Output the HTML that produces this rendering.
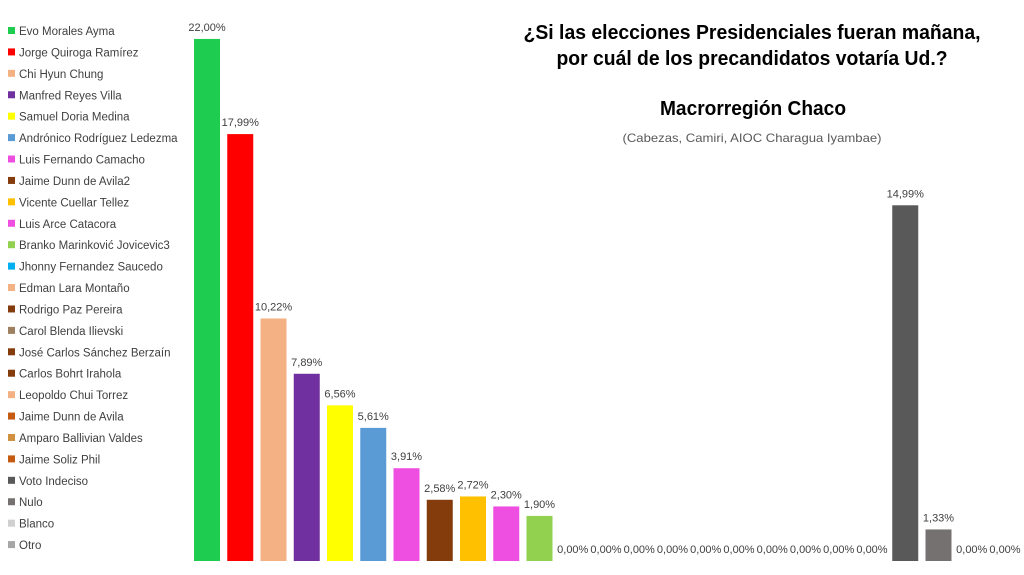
<!DOCTYPE html>
<html><head><meta charset="utf-8"><style>
html,body{margin:0;padding:0;background:#fff;}
svg{display:block;font-family:"Liberation Sans",Arial,sans-serif;}
</style></head><body>
<svg width="1024" height="575" viewBox="0 0 1024 575" xmlns="http://www.w3.org/2000/svg">
<g font-size="11.5" fill="#404040" id="legend"></g>
<g id="bars"></g>
<text x="752" y="39" text-anchor="middle" font-size="20" font-weight="bold" textLength="457" lengthAdjust="spacingAndGlyphs">¿Si las elecciones Presidenciales fueran mañana,</text>
<text x="752" y="65" text-anchor="middle" font-size="20" font-weight="bold" textLength="391" lengthAdjust="spacingAndGlyphs">por cuál de los precandidatos votaría Ud.?</text>
<text x="753" y="115" text-anchor="middle" font-size="20" font-weight="bold" textLength="186" lengthAdjust="spacingAndGlyphs">Macrorregión Chaco</text>
<text x="752" y="142" text-anchor="middle" font-size="12" fill="#595959" textLength="259" lengthAdjust="spacingAndGlyphs">(Cabezas, Camiri, AIOC Charagua Iyambae)</text>
</svg>
<script>
(function(){
var names=["Evo Morales Ayma","Jorge  Quiroga Ramírez","Chi Hyun Chung","Manfred Reyes Villa","Samuel Doria Medina","Andrónico Rodríguez Ledezma","Luis Fernando Camacho","Jaime Dunn de Avila2","Vicente Cuellar Tellez","Luis Arce Catacora","Branko Marinković Jovicevic3","Jhonny Fernandez Saucedo","Edman Lara Montaño","Rodrigo Paz Pereira","Carol Blenda Ilievski","José Carlos Sánchez Berzaín","Carlos Bohrt Irahola","Leopoldo Chui Torrez","Jaime Dunn de Avila","Amparo Ballivian Valdes","Jaime Soliz Phil","Voto Indeciso","Nulo","Blanco","Otro"];
var cols=["#1ecc50","#ff0000","#f4b183","#7030a0","#ffff00","#5b9bd5","#ee4fe0","#843c0c","#ffc000","#ee4fe0","#92d050","#00b0f0","#f4b183","#843c0c","#9e8060","#843c0c","#843c0c","#f4b183","#c55a11","#d09040","#c55a11","#595959","#767171","#d0d0d0","#a6a6a6"];
var vals=[22,17.99,10.22,7.89,6.56,5.61,3.91,2.58,2.72,2.30,1.90,0,0,0,0,0,0,0,0,0,0,14.99,1.33,0,0];
var ns="http://www.w3.org/2000/svg",L=document.getElementById("legend"),B=document.getElementById("bars");
function el(t,a,p,txt){var e=document.createElementNS(ns,t);for(var k in a)e.setAttribute(k,a[k]);if(txt!==undefined)e.textContent=txt;p.appendChild(e);return e;}
for(var i=0;i<25;i++){
 var y=31+i*21.42;
 el("rect",{x:8,y:y-4,width:7,height:7,fill:cols[i]},L);
 el("text",{x:19,y:y+4},L,names[i]);
 var cx=207+i*33.25,h=vals[i]*23.73,ty=561-h;
 var lbl=vals[i].toFixed(2).replace(".",",")+"%";
 if(vals[i]>0){
  el("rect",{x:cx-13,y:ty,width:26,height:h,fill:cols[i]},B);
  el("text",{x:cx,y:ty-8,"text-anchor":"middle","font-size":"11",fill:"#404040"},B,lbl);
 } else {
  el("text",{x:cx,y:553,"text-anchor":"middle","font-size":"11",fill:"#404040"},B,lbl);
 }
}
})();
</script>
</body></html>
